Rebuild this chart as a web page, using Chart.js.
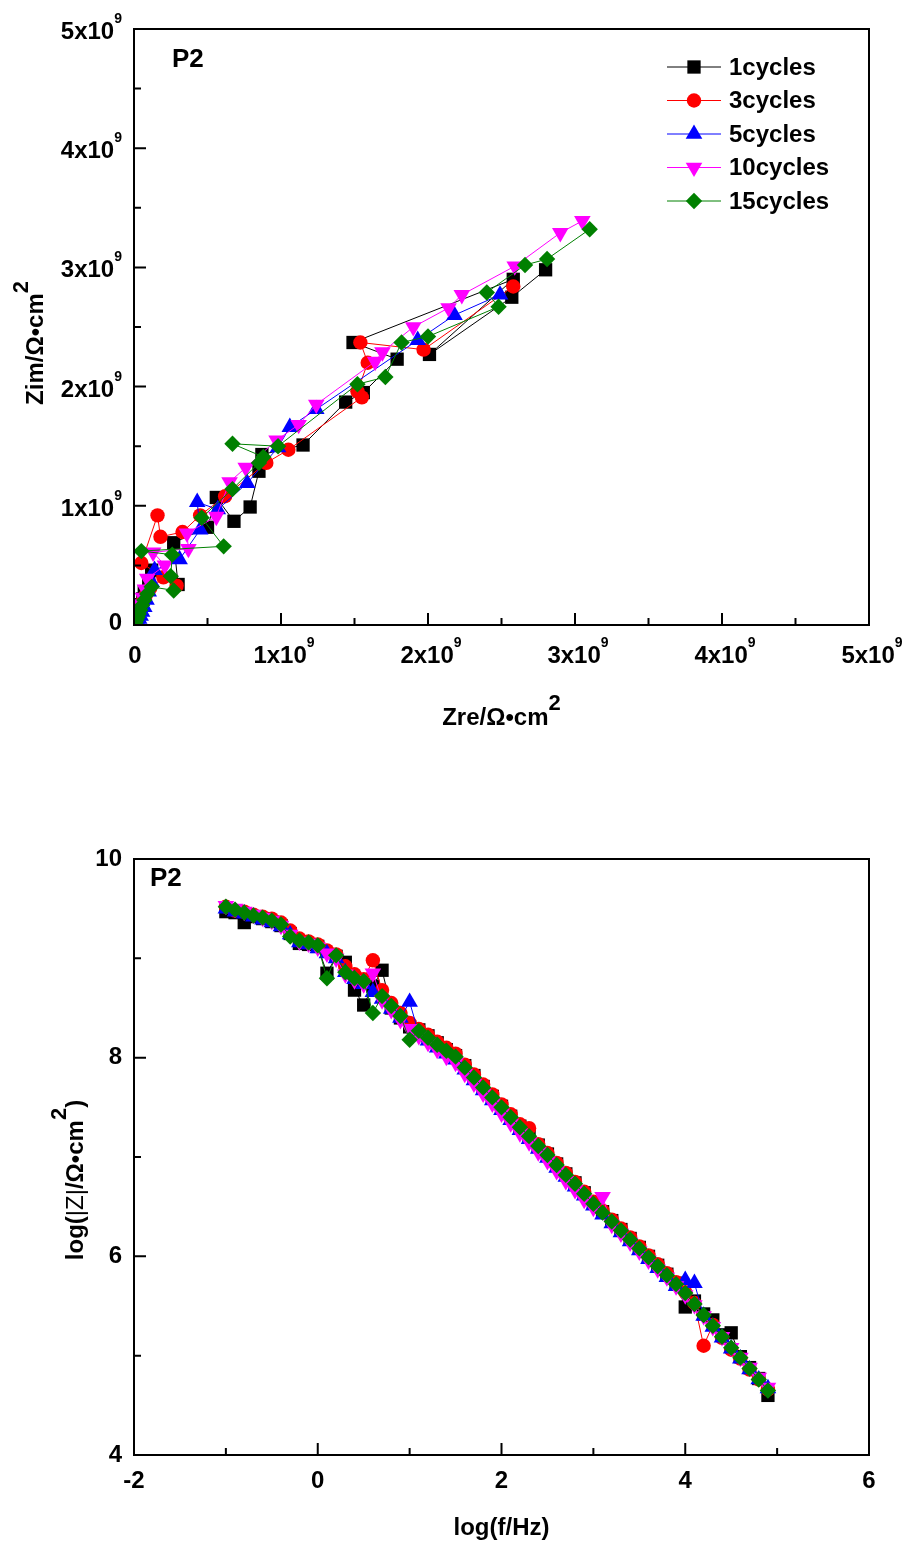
<!DOCTYPE html>
<html>
<head>
<meta charset="utf-8">
<script src="https://cdn.jsdelivr.net/npm/chart.js"></script>
<style>
  html, body { margin: 0; padding: 0; background: #fff; }
  canvas { display: block; }
</style>
</head>
<body>
<canvas id="nyquist" width="905" height="760"></canvas>
<canvas id="bode" width="905" height="783"></canvas>
<script>
// series names
const seriesNames = ['1cycles', '3cycles', '5cycles', '10cycles', '15cycles'];

// Nyquist data (x10^9 ohm cm2), low frequency first
const zre1 = [2.80, 2.57, 2.01, 2.58, 1.49, 1.79, 1.56, 1.44, 1.15, 0.87, 0.85, 0.79, 0.68, 0.56, 0.50, 0.27, 0.30, 0.12, 0.10, 0.07, 0.06, 0.045, 0.035, 0.03, 0.025, 0.02, 0.015, 0.01, 0.007, 0.004, 0.002];
const zim1 = [2.98, 2.75, 2.27, 2.90, 2.37, 2.23, 1.95, 1.87, 1.51, 1.43, 1.29, 0.99, 0.87, 1.07, 0.82, 0.69, 0.34, 0.46, 0.36, 0.28, 0.22, 0.17, 0.13, 0.10, 0.075, 0.055, 0.04, 0.025, 0.015, 0.008, 0.004];
const zre3 = [2.58, 1.97, 1.54, 1.59, 1.52, 1.55, 1.05, 0.90, 0.62, 0.45, 0.33, 0.18, 0.16, 0.05, 0.29, 0.20, 0.11, 0.08, 0.06, 0.045, 0.035, 0.028, 0.022, 0.016, 0.011, 0.007, 0.004, 0.002];
const zim3 = [2.84, 2.31, 2.37, 2.20, 1.96, 1.91, 1.47, 1.36, 1.08, 0.92, 0.78, 0.74, 0.92, 0.52, 0.33, 0.40, 0.31, 0.25, 0.20, 0.155, 0.12, 0.09, 0.068, 0.05, 0.034, 0.02, 0.011, 0.005];
const zre5 = [2.49, 2.18, 1.93, 1.24, 1.06, 0.98, 0.77, 0.57, 0.43, 0.45, 0.31, 0.14, 0.12, 0.10, 0.085, 0.07, 0.055, 0.045, 0.035, 0.025, 0.016, 0.009, 0.004];
const zim5 = [2.77, 2.60, 2.39, 1.81, 1.66, 1.49, 1.19, 0.97, 1.03, 0.80, 0.55, 0.46, 0.36, 0.28, 0.21, 0.15, 0.11, 0.075, 0.05, 0.032, 0.018, 0.009, 0.004];
const zre10 = [3.05, 2.90, 2.59, 2.23, 2.14, 1.90, 1.69, 1.64, 1.24, 1.12, 0.97, 0.76, 0.65, 0.56, 0.36, 0.37, 0.13, 0.21, 0.09, 0.075, 0.06, 0.048, 0.038, 0.03, 0.022, 0.015, 0.009, 0.005, 0.002];
const zim10 = [3.39, 3.29, 3.01, 2.77, 2.66, 2.50, 2.29, 2.21, 1.85, 1.68, 1.55, 1.32, 1.20, 0.91, 0.77, 0.64, 0.61, 0.50, 0.39, 0.30, 0.23, 0.175, 0.13, 0.095, 0.065, 0.042, 0.024, 0.012, 0.005];
const zre15 = [3.10, 2.81, 2.66, 2.40, 2.48, 2.00, 1.82, 1.71, 1.52, 0.98, 0.67, 0.88, 0.85, 0.67, 0.46, 0.61, 0.05, 0.26, 0.25, 0.27, 0.12, 0.09, 0.07, 0.055, 0.042, 0.032, 0.024, 0.016, 0.01, 0.005, 0.002];
const zim15 = [3.32, 3.07, 3.02, 2.79, 2.67, 2.42, 2.37, 2.08, 2.02, 1.50, 1.52, 1.41, 1.36, 1.14, 0.90, 0.66, 0.62, 0.59, 0.41, 0.29, 0.32, 0.26, 0.21, 0.165, 0.125, 0.092, 0.065, 0.042, 0.024, 0.011, 0.004];

// Bode data: log f and log|Z|
const logF = [-1.0, -0.9, -0.8, -0.7, -0.6, -0.5, -0.4, -0.3, -0.2, -0.1,
  0.0, 0.1, 0.2, 0.3, 0.4, 0.5, 0.6, 0.7, 0.8, 0.9,
  1.0, 1.1, 1.2, 1.3, 1.4, 1.5, 1.6, 1.7, 1.8, 1.9,
  2.0, 2.1, 2.2, 2.3, 2.4, 2.5, 2.6, 2.7, 2.8, 2.9,
  3.0, 3.1, 3.2, 3.3, 3.4, 3.5, 3.6, 3.7, 3.8, 3.9,
  4.0, 4.1, 4.2, 4.3, 4.4, 4.5, 4.6, 4.7, 4.8, 4.9];
const logZ1 = [9.47, 9.46, 9.36, 9.42, 9.40, 9.37, 9.33, 9.25, 9.15, 9.14,
  9.12, 8.85, 9.02, 8.96, 8.68, 8.53, 8.72, 8.88, 8.50, 8.40,
  8.31, 8.28, 8.22, 8.15, 8.08, 8.02, 7.92, 7.82, 7.71, 7.61,
  7.51, 7.41, 7.31, 7.22, 7.12, 7.03, 6.93, 6.83, 6.74, 6.64,
  6.54, 6.45, 6.36, 6.27, 6.18, 6.09, 6.00, 5.91, 5.82, 5.73,
  5.49, 5.55, 5.42, 5.36, 5.21, 5.23, 4.99, 4.88, 4.77, 4.60];
const logZ3 = [9.52, 9.48, 9.47, 9.44, 9.42, 9.40, 9.36, 9.28, 9.20, 9.17,
  9.14, 9.08, 9.04, 8.92, 8.84, 8.79, 8.98, 8.68, 8.55, 8.45,
  8.35, 8.29, 8.23, 8.16, 8.10, 8.04, 7.93, 7.83, 7.73, 7.63,
  7.53, 7.43, 7.33, 7.29, 7.13, 7.04, 6.94, 6.84, 6.75, 6.65,
  6.55, 6.46, 6.37, 6.28, 6.19, 6.10, 6.01, 5.92, 5.83, 5.74,
  5.64, 5.53, 5.10, 5.31, 5.18, 5.06, 4.97, 4.86, 4.76, 4.66];
const logZ5 = [9.50, 9.47, 9.45, 9.42, 9.39, 9.36, 9.32, 9.24, 9.16, 9.14,
  9.10, 9.05, 9.00, 8.86, 8.79, 8.74, 8.66, 8.59, 8.49, 8.40,
  8.56, 8.24, 8.17, 8.10, 8.04, 7.98, 7.88, 7.77, 7.67, 7.57,
  7.47, 7.37, 7.27, 7.18, 7.08, 6.99, 6.89, 6.80, 6.70, 6.61,
  6.51, 6.42, 6.33, 6.24, 6.15, 6.06, 5.97, 5.88, 5.79, 5.70,
  5.76, 5.73, 5.40, 5.29, 5.18, 5.07, 4.97, 4.86, 4.76, 4.67];
const logZ10 = [9.53, 9.50, 9.47, 9.44, 9.41, 9.38, 9.33, 9.24, 9.17, 9.15,
  9.11, 9.05, 9.00, 8.84, 8.78, 8.74, 8.85, 8.58, 8.48, 8.38,
  8.29, 8.22, 8.15, 8.08, 8.01, 7.95, 7.84, 7.74, 7.64, 7.54,
  7.44, 7.34, 7.24, 7.15, 7.05, 6.96, 6.86, 6.76, 6.67, 6.57,
  6.49, 6.60, 6.32, 6.23, 6.14, 6.05, 5.96, 5.87, 5.79, 5.70,
  5.61, 5.51, 5.40, 5.29, 5.19, 5.08, 4.98, 4.88, 4.78, 4.68];
const logZ15 = [9.52, 9.49, 9.46, 9.43, 9.41, 9.38, 9.34, 9.22, 9.18, 9.16,
  9.13, 8.80, 9.03, 8.86, 8.80, 8.77, 8.45, 8.62, 8.52, 8.42,
  8.18, 8.27, 8.20, 8.13, 8.07, 8.01, 7.90, 7.80, 7.70, 7.60,
  7.50, 7.40, 7.30, 7.21, 7.11, 7.02, 6.92, 6.82, 6.73, 6.63,
  6.53, 6.44, 6.35, 6.26, 6.17, 6.08, 5.99, 5.90, 5.81, 5.72,
  5.63, 5.52, 5.41, 5.30, 5.19, 5.08, 4.98, 4.87, 4.76, 4.65];

// tick labels
const nyqTicks = [0, 1, 2, 3, 4, 5];
const nyqTickLabels = ['0', '1x10', '2x10', '3x10', '4x10', '5x10'];
const nyqTickExp = ['', '9', '9', '9', '9', '9'];
const bodeXTicks = [-2, 0, 2, 4, 6];
const bodeYTicks = [4, 6, 8, 10];

const colors = ['#000000', '#ff0000', '#0000ff', '#ff00ff', '#008000'];
const markers = [
  { pointStyle: 'rect', radius: 9.4, rotation: 0 },
  { pointStyle: 'circle', radius: 7.2, rotation: 0 },
  { pointStyle: 'triangle', radius: 9.6, rotation: 0 },
  { pointStyle: 'triangle', radius: 9.6, rotation: 180 },
  { pointStyle: 'rectRot', radius: 8.2, rotation: 0 }
];

const FONT = '"Liberation Sans", Arial, sans-serif';

function pts(xs, ys) {
  return xs.map((x, i) => ({ x: x, y: ys[i] }));
}

function makeSets(pairs) {
  return pairs.map((d, i) => ({
    label: seriesNames[i],
    data: d,
    showLine: true,
    borderColor: colors[i],
    backgroundColor: colors[i],
    borderWidth: 1,
    pointStyle: markers[i].pointStyle,
    pointRadius: markers[i].radius,
    pointRotation: markers[i].rotation,
    pointBorderWidth: 0,
    pointBackgroundColor: colors[i],
    pointHoverRadius: markers[i].radius,
    order: 4 - i
  }));
}

// text with a raised part, e.g. "cm" + "2"
function textWithSup(ctx, parts, x, y, align) {
  let total = 0;
  parts.forEach(p => { ctx.font = p.font; p.w = ctx.measureText(p.text).width; total += p.w; });
  let cx = align === 'center' ? x - total / 2 : (align === 'right' ? x - total : x);
  ctx.textAlign = 'left';
  ctx.textBaseline = 'alphabetic';
  parts.forEach(p => {
    ctx.font = p.font;
    ctx.fillText(p.text, cx, y - (p.rise || 0));
    cx += p.w;
  });
}

const B24 = 'bold 24px ' + FONT;
const B22 = 'bold 22px ' + FONT;
const B14 = 'bold 14px ' + FONT;
const N24 = '24px ' + FONT;

// frame, inward ticks, labels, titles, legend
const framePlugin = {
  id: 'frame',
  afterDraw(chart, args, opts) {
    const { ctx, chartArea: a, scales } = chart;
    ctx.save();
    ctx.strokeStyle = '#000';
    ctx.lineWidth = 2;
    ctx.strokeRect(a.left, a.top, a.right - a.left, a.bottom - a.top);
    ctx.beginPath();
    opts.xMajor.forEach(v => {
      const px = scales.x.getPixelForValue(v);
      ctx.moveTo(px, a.bottom); ctx.lineTo(px, a.bottom - 12);
    });
    opts.xMinor.forEach(v => {
      const px = scales.x.getPixelForValue(v);
      ctx.moveTo(px, a.bottom); ctx.lineTo(px, a.bottom - 7);
    });
    opts.yMajor.forEach(v => {
      const py = scales.y.getPixelForValue(v);
      ctx.moveTo(a.left, py); ctx.lineTo(a.left + 12, py);
    });
    opts.yMinor.forEach(v => {
      const py = scales.y.getPixelForValue(v);
      ctx.moveTo(a.left, py); ctx.lineTo(a.left + 7, py);
    });
    ctx.stroke();
    ctx.fillStyle = '#000';

    // tick labels with exponent (Nyquist)
    if (opts.supTicks) {
      nyqTicks.forEach((v, i) => {
        const parts = [{ text: nyqTickLabels[i], font: B24 }];
        if (nyqTickExp[i]) parts.push({ text: nyqTickExp[i], font: B14, rise: 16 });
        const py = scales.y.getPixelForValue(v);
        textWithSup(ctx, parts, a.left - 12, v === 0 ? py + 5 : py + 10, 'right');
        const px = scales.x.getPixelForValue(v);
        textWithSup(ctx, parts.map(p => ({ ...p })), px + (v === 0 ? 1 : 3), a.bottom + 38, 'center');
      });
    }

    // axis titles
    textWithSup(ctx, opts.xTitle, (a.left + a.right) / 2, opts.xTitleY, 'center');
    ctx.save();
    ctx.translate(opts.yTitleX, opts.yTitleCY);
    ctx.rotate(-Math.PI / 2);
    textWithSup(ctx, opts.yTitle, 0, 0, 'center');
    ctx.restore();

    // panel label
    ctx.font = 'bold 26px ' + FONT;
    ctx.textBaseline = 'middle';
    ctx.textAlign = 'left';
    ctx.fillText('P2', opts.tagX, opts.tagY);

    // legend
    if (opts.legend) {
      ctx.font = B24;
      chart.data.datasets.forEach((ds, i) => {
        const y = 67 + i * 33.5;
        ctx.strokeStyle = ds.borderColor;
        ctx.lineWidth = 1;
        ctx.beginPath();
        ctx.moveTo(667, y); ctx.lineTo(721, y);
        ctx.stroke();
        ctx.fillStyle = ds.backgroundColor;
        Chart.helpers.drawPoint(ctx, {
          pointStyle: ds.pointStyle, radius: ds.pointRadius,
          rotation: ds.pointRotation, borderWidth: 0
        }, 694, y);
        ctx.fillStyle = '#000';
        ctx.font = B24;
        ctx.textBaseline = 'middle';
        ctx.textAlign = 'left';
        ctx.fillText(ds.label, 729, y + 1);
      });
    }
    ctx.restore();
  }
};

const tickFont = { family: FONT, size: 24, weight: 'bold' };

function fixX(h) {
  return s => { s.height = h; s.paddingLeft = 0; s.paddingRight = 0; };
}
function fixY(w) {
  return s => { s.width = w; s.paddingTop = 0; s.paddingBottom = 0; };
}

new Chart(document.getElementById('nyquist'), {
  type: 'scatter',
  data: {
    datasets: makeSets([pts(zre1, zim1), pts(zre3, zim3), pts(zre5, zim5), pts(zre10, zim10), pts(zre15, zim15)])
  },
  options: {
    responsive: false,
    animation: false,
    layout: { padding: { top: 29, right: 36, left: 0, bottom: 0 } },
    plugins: {
      legend: { display: false },
      tooltip: { enabled: false },
      frame: {
        xMajor: nyqTicks, xMinor: [0.5, 1.5, 2.5, 3.5, 4.5],
        yMajor: nyqTicks, yMinor: [0.5, 1.5, 2.5, 3.5, 4.5],
        supTicks: true,
        xTitle: [{ text: 'Zre/\u03a9\u2022cm', font: B24 }, { text: '2', font: B22, rise: 15 }],
        xTitleY: 725,
        yTitle: [{ text: 'Zim/\u03a9\u2022cm', font: B24 }, { text: '2', font: B22, rise: 15 }],
        yTitleX: 43, yTitleCY: 343,
        tagX: 172, tagY: 60, legend: true
      }
    },
    scales: {
      x: {
        type: 'linear', min: 0, max: 5,
        afterFit: fixX(135),
        grid: { display: false, drawTicks: false },
        border: { display: false },
        ticks: { display: false, stepSize: 1 }
      },
      y: {
        type: 'linear', min: 0, max: 5,
        afterFit: fixY(134),
        grid: { display: false, drawTicks: false },
        border: { display: false },
        ticks: { display: false, stepSize: 1 }
      }
    }
  },
  plugins: [framePlugin]
});

new Chart(document.getElementById('bode'), {
  type: 'scatter',
  data: {
    datasets: makeSets([pts(logF, logZ1), pts(logF, logZ3), pts(logF, logZ5), pts(logF, logZ10), pts(logF, logZ15)])
  },
  options: {
    responsive: false,
    animation: false,
    layout: { padding: { top: 99, right: 36, left: 0, bottom: 0 } },
    plugins: {
      legend: { display: false },
      tooltip: { enabled: false },
      frame: {
        xMajor: bodeXTicks, xMinor: [-1, 1, 3, 5],
        yMajor: bodeYTicks, yMinor: [5, 7, 9],
        supTicks: false,
        xTitle: [{ text: 'log(f/Hz)', font: B24 }],
        xTitleY: 775,
        yTitle: [{ text: 'log(', font: B24 }, { text: '|Z|', font: N24 }, { text: '/\u03a9\u2022cm', font: B24 },
          { text: '2', font: B22, rise: 17 }, { text: ')', font: B24 }],
        yTitleX: 83, yTitleCY: 420,
        tagX: 150, tagY: 119, legend: false
      }
    },
    scales: {
      x: {
        type: 'linear', min: -2, max: 6,
        afterFit: fixX(88),
        afterBuildTicks: s => { s.ticks = bodeXTicks.map(v => ({ value: v })); },
        grid: { display: false, drawTicks: false },
        border: { display: false },
        ticks: { color: '#000', font: tickFont, padding: 12, maxRotation: 0 }
      },
      y: {
        type: 'linear', min: 4, max: 10,
        afterFit: fixY(134),
        afterBuildTicks: s => { s.ticks = bodeYTicks.map(v => ({ value: v })); },
        grid: { display: false, drawTicks: false },
        border: { display: false },
        ticks: { color: '#000', font: tickFont, padding: 12 }
      }
    }
  },
  plugins: [framePlugin]
});
</script>
</body>
</html>
